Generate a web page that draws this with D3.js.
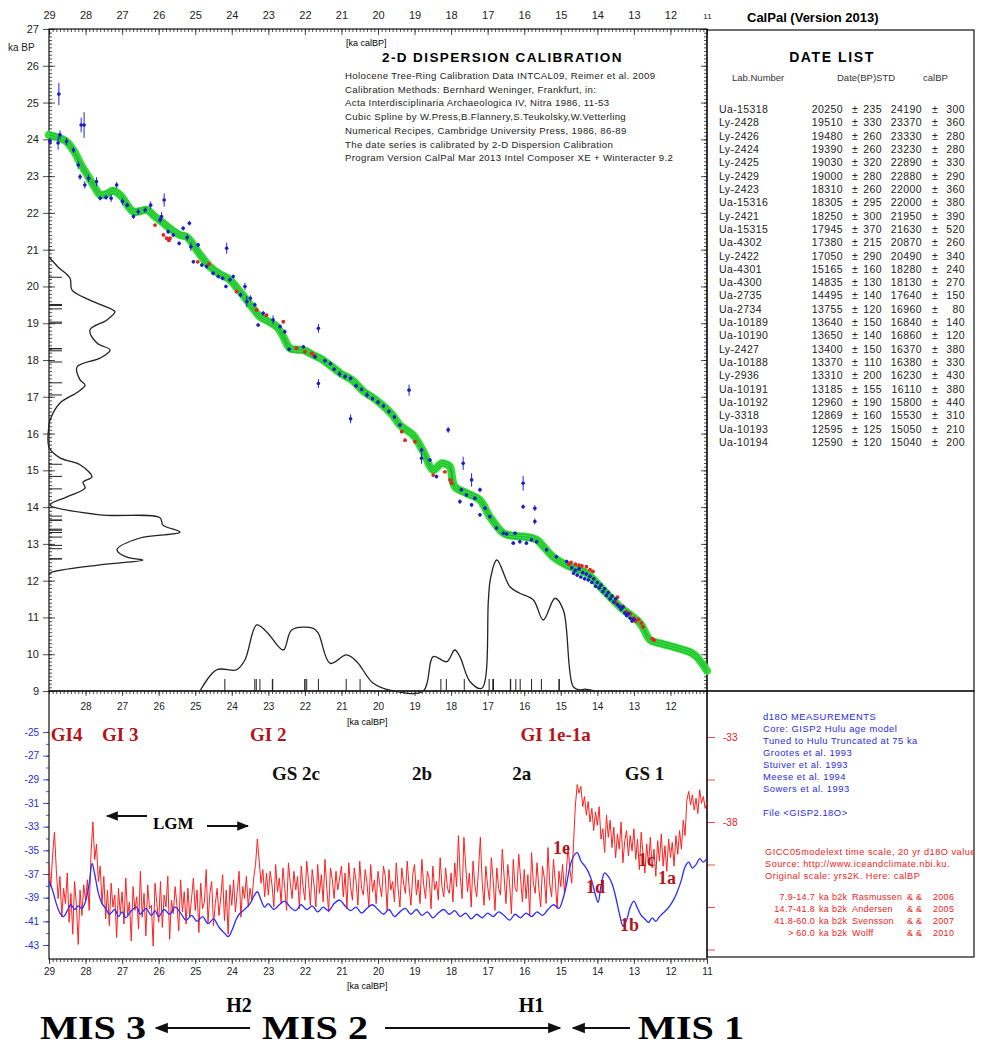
<!DOCTYPE html>
<html>
<head>
<meta charset="utf-8">
<script src="https://cdn.jsdelivr.net/npm/d3@7"></script>
<style>
body { margin: 0; background: #fff; }
svg text { font-family: "Liberation Sans", Arial, sans-serif; }
svg text.serif { font-family: "Liberation Serif", "Times New Roman", serif; font-weight: bold; }
</style>
</head>
<body>
<svg id="chart" width="986" height="1047"></svg>
<script>
// ---- date list (lab numbers, 14C ages, calibrated ages) ----
const labs = ["Ua-15318","Ly-2428","Ly-2426","Ly-2424","Ly-2425","Ly-2429","Ly-2423","Ua-15316","Ly-2421","Ua-15315","Ua-4302","Ly-2422","Ua-4301","Ua-4300","Ua-2735","Ua-2734","Ua-10189","Ua-10190","Ly-2427","Ua-10188","Ly-2936","Ua-10191","Ua-10192","Ly-3318","Ua-10193","Ua-10194"];
const bpDates = [20250,19510,19480,19390,19030,19000,18310,18305,18250,17945,17380,17050,15165,14835,14495,13755,13640,13650,13400,13370,13310,13185,12960,12869,12595,12590];
const bpStd = [235,330,260,260,320,280,260,295,300,370,215,290,160,130,140,120,150,140,150,110,200,155,190,160,125,120];
const calDates = [24190,23370,23330,23230,22890,22880,22000,22000,21950,21630,20870,20490,18280,18130,17640,16960,16840,16860,16370,16380,16230,16110,15800,15530,15050,15040];
const calStd = [300,360,280,280,330,290,360,380,390,520,260,340,240,270,150,80,140,120,380,330,430,380,440,310,210,200];

// ---- calibration curve [ka calBP, ka BP] ----
const calCurve = [[29.0,24.12],[28.75,24.05],[28.52,23.94],[28.3,23.65],[28.15,23.36],[27.92,22.98],[27.75,22.7],[27.6,22.49],[27.42,22.52],[27.24,22.6],[27.01,22.44],[26.85,22.2],[26.69,22.03],[26.5,22.05],[26.33,22.08],[26.1,21.9],[25.87,21.72],[25.62,21.52],[25.42,21.4],[25.23,21.35],[25.1,21.2],[24.96,20.99],[24.78,20.75],[24.6,20.54],[24.35,20.35],[24.05,20.18],[23.85,19.95],[23.59,19.63],[23.4,19.38],[23.23,19.18],[23.0,19.05],[22.77,18.91],[22.6,18.65],[22.41,18.32],[22.2,18.28],[22.04,18.27],[21.8,18.15],[21.59,18.05],[21.3,17.85],[21.0,17.62],[20.7,17.45],[20.4,17.15],[20.1,16.95],[19.8,16.7],[19.6,16.5],[19.4,16.23],[19.04,15.96],[18.76,15.51],[18.49,15.01],[18.26,15.19],[18.1,15.15],[18.03,15.1],[17.9,14.56],[17.58,14.38],[17.21,14.19],[16.94,13.74],[16.57,13.29],[16.3,13.22],[16.03,13.2],[15.66,13.11],[15.45,12.9],[15.21,12.65],[14.75,12.38],[14.29,12.2],[13.84,11.75],[13.38,11.29],[12.83,10.84],[12.56,10.39],[12.3,10.3],[12.1,10.25],[11.85,10.18],[11.65,10.12],[11.45,10.05],[11.28,9.93],[11.1,9.7],[11.0,9.55]];

// ---- calibration data points [ka calBP, ka BP, error] ----
const bluePoints = [[28.97,23.94,0.1],[28.75,23.9,0.18],[28.7,24.12,0.12],[28.52,23.94,0.1],[28.73,25.23,0.3],[28.12,24.39,0.2],[28.04,24.39,0.35],[28.33,23.71,0.08],[28.2,23.3,0.1],[28.15,22.98,0.08],[28.02,22.76,0.1],[27.92,22.94,0.1],[27.7,22.85,0.12],[27.6,22.4,0.06],[27.44,22.42,0.06],[27.3,22.4,0.1],[27.15,22.76,0.08],[26.99,22.31,0.1],[26.86,22.21,0.06],[26.69,21.9,0.06],[26.56,22.03,0.08],[26.37,22.08,0.06],[26.22,22.21,0.1],[25.96,21.81,0.08],[25.92,21.9,0.12],[25.85,22.35,0.18],[25.74,21.49,0.06],[25.6,21.4,0.06],[25.44,21.17,0.05],[25.33,21.58,0.06],[25.16,21.72,0.06],[25.22,21.33,0.08],[25.12,21.08,0.12],[24.92,21.13,0.06],[25.05,20.67,0.05],[24.82,20.58,0.05],[24.69,20.54,0.05],[24.51,20.36,0.06],[24.37,20.27,0.05],[24.25,20.22,0.05],[24.14,21.04,0.15],[24.05,20.18,0.05],[24.16,20.0,0.05],[23.96,20.27,0.05],[23.76,19.77,0.06],[23.64,20.0,0.1],[23.59,19.59,0.15],[23.49,19.68,0.08],[23.37,19.5,0.06],[23.28,18.95,0.05],[23.14,19.27,0.06],[22.87,19.09,0.12],[22.68,18.91,0.06],[22.55,18.77,0.06],[22.43,18.29,0.05],[22.04,18.36,0.05],[21.72,18.09,0.05],[21.63,18.86,0.12],[21.63,17.36,0.12],[21.45,17.98,0.05],[21.3,17.9,0.06],[21.2,17.75,0.05],[21.05,17.62,0.08],[20.9,17.55,0.06],[20.75,16.4,0.12],[20.75,17.5,0.05],[20.6,17.3,0.06],[20.45,17.2,0.05],[20.3,17.05,0.08],[20.15,16.95,0.05],[20.0,16.85,0.06],[19.85,16.75,0.05],[19.7,16.6,0.06],[19.55,16.45,0.05],[19.4,16.23,0.05],[19.15,17.18,0.15],[18.81,15.55,0.06],[18.81,15.33,0.15],[18.58,15.28,0.05],[18.4,14.83,0.05],[18.08,16.1,0.08],[17.72,14.47,0.05],[17.76,14.15,0.06],[17.67,15.19,0.18],[17.58,14.33,0.05],[17.44,14.74,0.18],[17.44,14.06,0.05],[17.35,14.24,0.05],[17.21,14.47,0.06],[17.21,13.79,0.05],[17.07,13.97,0.05],[16.94,13.74,0.05],[16.76,13.43,0.05],[16.57,13.29,0.05],[16.48,13.27,0.05],[16.3,13.02,0.05],[16.25,13.29,0.05],[16.12,13.06,0.05],[16.03,14.65,0.2],[16.03,14.01,0.06],[15.94,13.02,0.05],[15.8,13.11,0.05],[15.71,13.97,0.08],[15.71,13.61,0.08],[15.66,13.06,0.05],[15.39,12.84,0.05],[15.12,12.65,0.05],[14.84,12.52,0.05],[14.7,12.35,0.04],[14.65,12.2,0.04],[14.6,12.28,0.04],[14.55,12.15,0.04],[14.5,12.32,0.04],[14.45,12.1,0.04],[14.4,12.22,0.04],[14.35,12.05,0.04],[14.3,12.18,0.04],[14.25,12.02,0.04],[14.2,12.12,0.04],[14.15,11.95,0.04],[14.1,12.05,0.04],[14.05,11.85,0.04],[14.0,11.95,0.04],[13.95,11.8,0.04],[13.9,11.88,0.04],[13.85,11.7,0.04],[13.8,11.78,0.04],[13.75,11.6,0.04],[13.7,11.68,0.04],[13.65,11.5,0.04],[13.6,11.58,0.04],[13.55,11.42,0.04],[13.5,11.5,0.04],[13.45,11.35,0.04],[13.4,11.3,0.04],[13.35,11.22,0.04],[13.3,11.28,0.04],[13.25,11.12,0.04],[13.2,11.05,0.04],[13.15,11.1,0.04],[13.1,10.98,0.04],[13.05,10.9,0.04],[13.0,10.95,0.04]];
const redPoints = [[26.1,21.67],[25.87,21.4],[25.78,21.31],[25.69,21.31],[25.72,21.25],[24.93,20.67],[24.62,20.61],[23.87,19.86],[23.32,19.36],[23.05,19.22],[22.59,19.04],[22.23,18.32],[22.0,18.23],[21.81,18.18],[21.75,18.12],[19.35,16.05],[19.26,15.82],[18.99,15.78],[18.49,14.87],[18.17,14.96],[18.03,14.74],[17.99,14.65],[14.78,12.45],[14.72,12.5],[14.6,12.45],[14.5,12.42],[14.42,12.4],[14.3,12.38],[14.2,12.3],[14.12,12.25],[13.5,11.4],[13.45,11.55],[13.3,11.3],[13.2,11.15],[13.1,11.1],[13.0,10.98],[12.95,10.9],[12.88,10.95],[12.8,10.85],[12.75,10.75],[12.5,10.42],[12.45,10.38]];

// ---- summed probabilities: 14C (left) [ka BP, rel] and calibrated (bottom) [ka calBP, rel] ----
const bpDensity = [[20.8,0],[20.53,6.9],[20.23,16.0],[19.9,17.6],[19.63,31.3],[19.36,48.9],[19.31,50.4],[19.09,44.3],[18.82,31.3],[18.46,36.6],[18.27,46.6],[18.05,38.9],[17.81,21.4],[17.46,23.7],[17.32,27.5],[17.13,22.1],[16.83,8.4],[16.37,0.8],[16.23,0],[15.63,0],[15.34,8.4],[15.15,23.7],[14.82,32.8],[14.68,26.0],[14.52,27.5],[14.28,13.7],[14.06,0.8],[13.79,38.9],[13.71,84.7],[13.51,87.0],[13.32,100],[13.16,69.5],[12.84,51.9],[12.64,59.5],[12.56,71.8],[12.43,38.9],[12.21,0.8],[12.16,0]];
const calDensity = [[24.87,0],[24.41,16.2],[23.87,16.2],[23.64,23.7],[23.32,50.4],[23.05,45.3],[22.59,31.3],[22.36,46.6],[21.77,47.8],[21.63,44.0],[21.31,21.1],[20.86,27.5],[20.58,22.4],[20.13,5.9],[19.58,0],[18.76,0],[18.49,26.2],[18.12,22.4],[17.9,31.3],[17.76,26.2],[17.48,7.1],[17.16,2.1],[16.98,69.5],[16.93,84.7],[16.75,100],[16.39,79.6],[16.12,74.6],[15.75,69.5],[15.48,54.2],[15.16,70.8],[14.93,61.8],[14.66,3.3],[14.48,0.8],[14.34,1.5],[14.2,0.8],[14.07,0]];

// ---- d18O: GISP2 (red, 20-yr steps from 29.0 ka) and Hulu (blue) ----
const redStart = 29.0, redStep = 0.05;
const gispD18O = [
-40.5,-41.8,-39.9,-38.6,-40.8,-42.5,-41.2,-43.6,-41.9,-42.8,-41.0,-43.9,-42.2,-44.6,-41.5,-42.9,-45.2,-42.0,-43.5,-41.7,
-42.6,-41.4,-43.2,-39.8,-38.0,-40.2,-39.3,-41.5,-40.6,-42.8,-41.2,-43.7,-42.0,-44.1,-41.6,-43.0,-42.3,-44.8,-41.9,-43.4,
-42.1,-44.0,-41.3,-43.5,-42.7,-45.0,-41.8,-43.2,-42.4,-44.3,-40.9,-43.6,-42.2,-44.7,-41.7,-43.1,-42.9,-45.3,-41.6,-42.8,
-43.9,-41.5,-44.2,-42.3,-43.0,-41.2,-44.9,-42.6,-43.4,-41.8,-42.9,-44.4,-41.4,-43.3,-42.1,-44.0,-41.9,-43.6,-42.5,-41.3,
-43.2,-42.0,-44.5,-41.6,-43.1,-42.7,-40.8,-43.9,-42.2,-41.5,-44.1,-42.8,-41.9,-43.5,-42.4,-41.1,-43.8,-42.0,-44.6,-41.7,
-42.9,-41.4,-43.3,-42.1,-40.9,-43.6,-41.8,-42.5,-41.2,-43.0,-41.9,-42.6,-41.3,-40.5,-39.0,-40.3,-41.6,-40.8,-42.4,-41.0,
-42.3,-40.9,-41.7,-43.0,-40.5,-42.1,-41.3,-42.8,-40.7,-41.9,-43.2,-40.4,-41.6,-42.5,-40.9,-42.0,-41.2,-43.1,-40.6,-41.8,
-42.6,-40.3,-41.5,-42.9,-40.8,-41.7,-43.0,-40.5,-42.2,-41.1,-42.7,-40.2,-41.9,-43.3,-40.7,-41.4,-42.5,-40.9,-42.0,-41.3,
-40.6,-42.4,-41.0,-43.1,-40.4,-41.8,-42.6,-40.7,-41.5,-42.9,-40.3,-41.9,-42.3,-40.8,-41.6,-43.0,-40.5,-42.1,-41.4,-42.8,
-40.9,-41.7,-42.4,-40.6,-41.2,-43.2,-40.8,-42.0,-41.5,-42.7,-40.4,-41.9,-43.0,-40.7,-41.6,-42.2,-40.3,-41.8,-42.9,-41.1,
-40.5,-42.3,-41.4,-42.8,-40.2,-41.7,-42.5,-40.9,-41.3,-43.1,-40.6,-42.0,-41.5,-42.6,-40.1,-41.8,-42.4,-40.7,-41.9,-42.2,
-41.0,-42.7,-40.4,-41.8,-38.8,-41.2,-42.5,-38.9,-40.6,-42.1,-41.0,-43.0,-40.3,-41.7,-42.4,-40.8,-38.9,-41.5,-42.9,-40.6,
-41.8,-42.6,-40.1,-41.4,-43.2,-40.7,-41.9,-42.3,-39.6,-41.2,-42.8,-40.5,-41.6,-43.4,-40.2,-41.9,-42.1,-39.9,-41.3,-42.7,
-40.8,-42.5,-41.1,-43.5,-39.8,-41.6,-42.2,-40.4,-41.9,-43.0,-40.6,-41.3,-42.8,-39.5,-41.7,-42.4,-40.2,-41.5,-43.1,-40.9,
-41.8,-40.5,-42.2,-41.0,-39.4,-40.8,-41.6,-39.2,-37.0,-35.8,-36.3,-35.9,-37.1,-36.5,-37.6,-36.8,-38.0,-37.2,-38.5,-37.4,
-38.2,-37.1,-39.0,-38.4,-39.8,-37.6,-38.9,-37.9,-39.5,-38.3,-40.1,-38.7,-39.6,-38.0,-40.4,-39.1,-38.5,-40.0,-38.8,-39.7,
-38.4,-40.2,-39.0,-40.8,-38.6,-39.9,-41.0,-39.3,-40.5,-38.9,-40.7,-39.6,-41.2,-39.1,-40.3,-38.7,-40.6,-39.4,-40.9,-39.0,
-40.1,-39.2,-40.6,-38.8,-39.9,-38.5,-39.6,-37.9,-38.8,-36.7,-36.2,-37.0,-36.4,-37.3,-36.6,-37.5,-36.1,-36.9,-36.5,-37.2,-36.8];
const huluD18O = [[29.0,-37.6],[28.9,-38.4],[28.8,-39.5],[28.7,-40.3],[28.6,-40.6],[28.5,-40.1],[28.4,-39.6],[28.3,-40.0],[28.2,-39.7],[28.1,-39.9],[28.0,-39.3],[27.9,-37.8],[27.82,-36.1],[27.75,-37.0],[27.65,-38.6],[27.55,-39.5],[27.45,-39.9],[27.35,-40.4],[27.2,-40.0],[27.1,-40.6],[27.0,-40.2],[26.9,-40.7],[26.75,-40.1],[26.6,-39.8],[26.5,-40.4],[26.35,-39.9],[26.2,-40.5],[26.1,-40.1],[26.0,-40.6],[25.85,-40.0],[25.7,-40.4],[25.55,-39.8],[25.4,-40.3],[25.25,-40.9],[25.1,-40.5],[24.95,-41.0],[24.8,-40.6],[24.65,-41.2],[24.5,-40.8],[24.35,-41.5],[24.2,-42.0],[24.1,-42.3],[24.0,-41.8],[23.9,-41.0],[23.8,-40.4],[23.65,-40.0],[23.5,-39.5],[23.4,-38.9],[23.3,-38.5],[23.2,-39.2],[23.1,-39.8],[23.0,-39.5],[22.85,-40.0],[22.7,-39.6],[22.55,-39.3],[22.4,-39.8],[22.25,-40.1],[22.1,-39.6],[21.95,-40.0],[21.8,-39.7],[21.65,-40.2],[21.5,-39.8],[21.35,-40.1],[21.2,-39.5],[21.05,-39.2],[20.9,-39.7],[20.75,-40.1],[20.6,-39.8],[20.45,-40.3],[20.3,-39.9],[20.15,-39.6],[20.0,-40.0],[19.85,-40.4],[19.7,-40.0],[19.55,-40.6],[19.4,-40.2],[19.25,-39.9],[19.1,-40.4],[18.95,-40.0],[18.8,-40.5],[18.65,-40.2],[18.5,-40.7],[18.35,-40.3],[18.2,-40.0],[18.05,-40.4],[17.9,-40.1],[17.75,-40.6],[17.6,-40.3],[17.45,-40.8],[17.3,-40.4],[17.15,-40.7],[17.0,-40.3],[16.85,-40.6],[16.7,-40.2],[16.55,-40.5],[16.4,-40.9],[16.25,-40.4],[16.1,-40.7],[15.95,-40.3],[15.8,-40.6],[15.65,-40.2],[15.5,-40.5],[15.35,-40.0],[15.2,-39.6],[15.05,-39.9],[14.95,-39.2],[14.85,-38.0],[14.75,-36.4],[14.65,-35.5],[14.55,-35.2],[14.45,-35.9],[14.35,-36.3],[14.25,-36.8],[14.15,-37.6],[14.05,-38.8],[13.98,-39.4],[13.9,-38.0],[13.8,-36.9],[13.7,-37.2],[13.6,-37.8],[13.5,-38.9],[13.4,-40.3],[13.3,-41.4],[13.2,-40.9],[13.1,-39.8],[13.0,-39.3],[12.9,-39.9],[12.8,-40.5],[12.7,-40.8],[12.6,-41.1],[12.5,-40.7],[12.4,-41.0],[12.3,-40.6],[12.2,-40.3],[12.1,-40.0],[12.0,-39.6],[11.9,-39.1],[11.8,-38.4],[11.7,-37.5],[11.6,-36.4],[11.5,-36.0],[11.4,-36.5],[11.3,-36.2],[11.2,-35.7],[11.1,-36.0],[11.0,-35.6]];

// ---- text blocks ----
const infoLines = ["Holocene Tree-Ring Calibration Data INTCAL09, Reimer et al. 2009","Calibration Methods:  Bernhard Weninger, Frankfurt, in:","Acta Interdisciplinaria Archaeologica IV, Nitra 1986, 11-53","Cubic Spline by  W.Press,B.Flannery,S.Teukolsky,W.Vetterling","Numerical Recipes, Cambridge University Press, 1986, 86-89","The date series is calibrated by 2-D Dispersion Calibration","Program Version CalPal Mar 2013 Intel Composer XE + Winteracter 9.2"];
const coreLines = ["d18O MEASUREMENTS","Core: GISP2 Hulu age model","Tuned to Hulu Truncated at 75 ka","Grootes et al. 1993","Stuiver et al. 1993","Meese et al. 1994","Sowers et al. 1993","","File <GISP2.18O>"];
const scaleLines = ["GICC05modelext time scale, 20 yr d18O values","Source: http://www.iceandclimate.nbi.ku.","Original scale: yrs2K. Here: calBP"];
const refRanges = ["7.9-14.7","14.7-41.8","41.8-60.0","> 60.0"];
const refAuthors = ["Rasmussen","Andersen","Svensson","Wolff"];
const refYears = ["2006","2005","2007","2010"];

// ---- event labels (x in ka calBP, v in per mil of the left axis) ----
const giLabels = [{t:"GI4",x:28.95},{t:"GI 3",x:27.55},{t:"GI 2",x:23.5},{t:"GI 1e-1a",x:16.1}];
const gsLabels = [{t:"GS 2c",x:22.9},{t:"2b",x:19.07},{t:"2a",x:16.33},{t:"GS 1",x:13.25}];
const subLabels = [{t:"1e",x:15.21,v:-35.3},{t:"1d",x:14.31,v:-38.6},{t:"1c",x:12.89,v:-36.3},{t:"1a",x:12.34,v:-37.85},{t:"1b",x:13.38,v:-41.8}];

// =================================
const svg = d3.select("#chart");
svg.append("rect").attr("width", 986).attr("height", 1047).attr("fill", "#fff");

const x = d3.scaleLinear().domain([29, 11]).range([49, 707]);
const yTop = d3.scaleLinear().domain([27, 9]).range([29, 691]);
const yBlue = d3.scaleLinear().domain([-25, -43]).range([732, 945]);
const yRed = d3.scaleLinear().domain([-33, -38]).range([737, 822]);
const densX = d3.scaleLinear().domain([0, 100]).range([49, 180]);
const densY = d3.scaleLinear().domain([0, 100]).range([691, 560]);

const defs = svg.append("defs");
defs.append("clipPath").attr("id", "lowClip").append("rect").attr("x", 49).attr("y", 691).attr("width", 658).attr("height", 268);
defs.append("clipPath").attr("id", "boxClip").append("rect").attr("x", 707).attr("y", 691).attr("width", 267).attr("height", 266);

function drawAxis(axis, tx, ty, color, size) {
  const g = svg.append("g").attr("transform", `translate(${tx},${ty})`).call(axis);
  g.select(".domain").remove();
  g.selectAll(".tick line").attr("stroke", color).attr("stroke-width", 0.8);
  g.selectAll(".tick text").attr("fill", color).style("font-size", size + "px").attr("font-family", "Liberation Sans, Arial, sans-serif");
  return g;
}
const minorX = d3.range(110, 291).map(d => d / 10);
const minorY = d3.range(90, 271).map(d => d / 10);
const fmt = d => String(d);

// ---- top panel axes ----
const topAx = drawAxis(d3.axisTop(x).tickValues(d3.range(11, 30)).tickSize(-6).tickPadding(10).tickFormat(fmt), 0, 29, "#222", 11);
topAx.selectAll(".tick text").filter(d => d === 11).style("font-size", "8px");
drawAxis(d3.axisTop(x).tickValues(minorX).tickSize(-3).tickFormat(""), 0, 29, "#222", 10);
drawAxis(d3.axisLeft(yTop).tickValues(d3.range(9, 28)).tickSize(6).tickPadding(4).tickFormat(fmt), 49, 0, "#222", 11);
drawAxis(d3.axisLeft(yTop).tickValues(d3.range(9, 28)).tickSize(-6).tickFormat(""), 49, 0, "#222", 10);
drawAxis(d3.axisLeft(yTop).tickValues(minorY).tickSize(-3).tickFormat(""), 49, 0, "#222", 10);
drawAxis(d3.axisRight(yTop).tickValues(d3.range(9, 28)).tickSize(-6).tickFormat(""), 707, 0, "#222", 10);
drawAxis(d3.axisRight(yTop).tickValues(minorY).tickSize(-3).tickFormat(""), 707, 0, "#222", 10);
drawAxis(d3.axisBottom(x).tickValues(d3.range(12, 29)).tickSize(5).tickPadding(7).tickFormat(fmt), 0, 691, "#222", 10);
drawAxis(d3.axisBottom(x).tickValues(minorX).tickSize(3).tickFormat(""), 0, 691, "#222", 10);

// ---- lower panel axes ----
drawAxis(d3.axisLeft(yBlue).tickValues(d3.range(-43, -24, 2)).tickSize(6).tickPadding(4).tickFormat(fmt), 49, 0, "#2a2ad0", 10);
drawAxis(d3.axisLeft(yBlue).tickValues(d3.range(-43, -24, 1)).tickSize(3).tickFormat(""), 49, 0, "#2a2ad0", 10);
drawAxis(d3.axisRight(yRed).tickValues([-33, -35.5, -38, -40.5, -43, -45.5]).tickSize(8).tickPadding(8)
  .tickFormat(d => (d === -33 || d === -38) ? String(d) : ""), 707, 0, "#e02020", 10);
drawAxis(d3.axisBottom(x).tickValues(d3.range(11, 30)).tickSize(5).tickPadding(4).tickFormat(fmt), 0, 959, "#222", 10);
drawAxis(d3.axisBottom(x).tickValues(minorX).tickSize(3).tickFormat(""), 0, 959, "#222", 10);

// ---- frames ----
const frame = (x0, y0, w, h) => svg.append("rect").attr("x", x0).attr("y", y0).attr("width", w).attr("height", h)
  .attr("fill", "none").attr("stroke", "#111").attr("stroke-width", 1.2);
frame(49, 29, 658, 662);
frame(707, 30, 267, 661);
frame(49, 691, 658, 268);
frame(707, 691, 267, 266);

// ---- summed probability curves ----
svg.append("path").datum(bpDensity)
  .attr("d", d3.line().x(d => densX(d[1])).y(d => yTop(d[0])).curve(d3.curveCatmullRom))
  .attr("fill", "none").attr("stroke", "#222").attr("stroke-width", 1.3);
svg.append("path").datum(calDensity)
  .attr("d", d3.line().x(d => x(d[0])).y(d => densY(d[1])).curve(d3.curveCatmullRom))
  .attr("fill", "none").attr("stroke", "#222").attr("stroke-width", 1.3);

// date ticks
svg.append("g").selectAll("line").data(bpDates).join("line")
  .attr("x1", 49).attr("x2", 62).attr("y1", d => yTop(d / 1000)).attr("y2", d => yTop(d / 1000))
  .attr("stroke", "#222").attr("stroke-width", 1);
svg.append("g").selectAll("line").data(calDates).join("line")
  .attr("x1", d => x(d / 1000)).attr("x2", d => x(d / 1000)).attr("y1", 691).attr("y2", 679)
  .attr("stroke", "#222").attr("stroke-width", 1);

// ---- calibration curve ----
const calLine = d3.line().x(d => x(d[0])).y(d => yTop(d[1])).curve(d3.curveCatmullRom);
svg.append("path").datum(calCurve).attr("d", calLine)
  .attr("fill", "none").attr("stroke", "#2fe02f").attr("stroke-width", 8).attr("stroke-linecap", "round");
[-2.6, 0, 2.6].forEach(off => {
  svg.append("path").datum(calCurve).attr("d", calLine).attr("transform", `translate(0,${off})`)
    .attr("fill", "none").attr("stroke", "#2a7a6a").attr("stroke-width", 0.6).attr("opacity", 0.8);
});

// ---- points ----
svg.append("g").selectAll("circle").data(redPoints).join("circle")
  .attr("cx", d => x(d[0])).attr("cy", d => yTop(d[1])).attr("r", 1.9).attr("fill", "#e52222");
const bp = svg.append("g");
bp.selectAll("line.err").data(bluePoints).join("line").attr("class", "err")
  .attr("x1", d => x(d[0])).attr("x2", d => x(d[0]))
  .attr("y1", d => yTop(d[1] + d[2])).attr("y2", d => yTop(d[1] - d[2]))
  .attr("stroke", "#2323d8").attr("stroke-width", 1);
bp.selectAll("line.bar").data(bluePoints).join("line").attr("class", "bar")
  .attr("x1", d => x(d[0]) - 1.5).attr("x2", d => x(d[0]) + 1.5)
  .attr("y1", d => yTop(d[1])).attr("y2", d => yTop(d[1]))
  .attr("stroke", "#2323d8").attr("stroke-width", 1);
bp.selectAll("circle").data(bluePoints).join("circle")
  .attr("cx", d => x(d[0])).attr("cy", d => yTop(d[1])).attr("r", 1.8).attr("fill", "#1d1dc8");

// ---- top texts ----
svg.append("text").attr("x", 747).attr("y", 22).style("font-size", "13px").style("font-weight", "bold").text("CalPal (Version 2013)");
svg.append("text").attr("x", 8).attr("y", 51).style("font-size", "10px").attr("fill", "#222").text("ka BP");
svg.append("text").attr("x", 346).attr("y", 46).style("font-size", "9px").text("[ka calBP]");
svg.append("text").attr("x", 382).attr("y", 62).style("font-size", "13.5px").style("font-weight", "bold")
  .style("letter-spacing", "1.4px").text("2-D DISPERSION CALIBRATION");
svg.append("g").selectAll("text").data(infoLines).join("text")
  .attr("x", 345).attr("y", (d, i) => 79 + i * 13.7).style("font-size", "9.6px").style("letter-spacing", "0.35px")
  .attr("fill", "#222").text(d => d);

// ---- date list ----
svg.append("text").attr("x", 832).attr("y", 62).attr("text-anchor", "middle").style("font-size", "14px")
  .style("font-weight", "bold").style("letter-spacing", "1.6px").text("DATE LIST");
svg.append("text").attr("x", 732).attr("y", 81).style("font-size", "9.5px").attr("fill", "#333").text("Lab.Number");
svg.append("text").attr("x", 837).attr("y", 81).style("font-size", "9.5px").attr("fill", "#333").text("Date(BP)STD");
svg.append("text").attr("x", 923).attr("y", 81).style("font-size", "9.5px").attr("fill", "#333").text("calBP");
const rows = svg.append("g").style("font-size", "10.5px").attr("fill", "#222");
labs.forEach((lab, i) => {
  const yy = 113 + i * 13.32;
  rows.append("text").attr("x", 719).attr("y", yy).style("letter-spacing", "0.4px").text(lab);
  rows.append("text").attr("x", 843).attr("y", yy).attr("text-anchor", "end").style("letter-spacing", "0.4px").text(bpDates[i]);
  rows.append("text").attr("x", 855).attr("y", yy).attr("text-anchor", "middle").text("±");
  rows.append("text").attr("x", 882).attr("y", yy).attr("text-anchor", "end").style("letter-spacing", "0.4px").text(bpStd[i]);
  rows.append("text").attr("x", 922).attr("y", yy).attr("text-anchor", "end").style("letter-spacing", "0.4px").text(calDates[i]);
  rows.append("text").attr("x", 935).attr("y", yy).attr("text-anchor", "middle").text("±");
  rows.append("text").attr("x", 965).attr("y", yy).attr("text-anchor", "end").style("letter-spacing", "0.4px").text(calStd[i]);
});

// ---- lower panel curves ----
const low = svg.append("g").attr("clip-path", "url(#lowClip)");
low.append("path").datum(gispD18O.map((v, i) => [redStart - i * redStep, v]))
  .attr("d", d3.line().x(d => x(d[0])).y(d => yRed(d[1])))
  .attr("fill", "none").attr("stroke", "#ff1f1f").attr("stroke-width", 1);
low.append("path").datum(huluD18O)
  .attr("d", d3.line().x(d => x(d[0])).y(d => yBlue(d[1])).curve(d3.curveCatmullRom))
  .attr("fill", "none").attr("stroke", "#2b2bff").attr("stroke-width", 1.3);

// lower labels
svg.append("text").attr("x", 347).attr("y", 725).style("font-size", "9px").text("[ka calBP]");
svg.append("text").attr("x", 347).attr("y", 989).style("font-size", "9px").text("[ka calBP]");
svg.append("g").selectAll("text").data(giLabels).join("text").attr("class", "serif")
  .attr("x", d => x(d.x)).attr("y", 741).style("font-size", "19px").attr("fill", "#b3141a").text(d => d.t);
svg.append("g").selectAll("text").data(gsLabels).join("text").attr("class", "serif")
  .attr("x", d => x(d.x)).attr("y", 780).style("font-size", "19px").attr("fill", "#111").text(d => d.t);
svg.append("g").selectAll("text").data(subLabels).join("text").attr("class", "serif")
  .attr("x", d => x(d.x)).attr("y", d => yBlue(d.v)).style("font-size", "18px").attr("fill", "#b3141a").text(d => d.t);

// LGM with arrows
const arrowHead = defs.append("marker").attr("id", "ah").attr("viewBox", "0 0 10 10").attr("refX", 9).attr("refY", 5)
  .attr("markerWidth", 6).attr("markerHeight", 6).attr("orient", "auto-start-reverse");
arrowHead.append("path").attr("d", "M0,1 L10,5 L0,9 Z").attr("fill", "#111");
const arrow = (x1, x2, y, w) => svg.append("line").attr("x1", x1).attr("x2", x2).attr("y1", y).attr("y2", y)
  .attr("stroke", "#111").attr("stroke-width", w).attr("marker-end", "url(#ah)");
svg.append("text").attr("class", "serif").attr("x", 153).attr("y", 829).style("font-size", "17px").text("LGM");
arrow(147, 107, 816, 2);
arrow(207, 248, 826, 2);

// lower right text box
const box = svg.append("g").attr("clip-path", "url(#boxClip)");
box.append("g").selectAll("text").data(coreLines).join("text")
  .attr("x", 763).attr("y", (d, i) => 720 + i * 12).style("font-size", "9.4px").style("letter-spacing", "0.5px")
  .attr("fill", "#2a2ad8").text(d => d);
box.append("g").selectAll("text").data(scaleLines).join("text")
  .attr("x", 765).attr("y", (d, i) => 855 + i * 12).style("font-size", "9.2px").style("letter-spacing", "0.5px")
  .attr("fill", "#ee2222").text(d => d);
refRanges.forEach((r, i) => {
  const yy = 900 + i * 12;
  const g = box.append("g").style("font-size", "9px").style("letter-spacing", "0.3px").attr("fill", "#ee2222");
  g.append("text").attr("x", 815).attr("y", yy).attr("text-anchor", "end").text(r);
  g.append("text").attr("x", 819).attr("y", yy).text("ka b2k");
  g.append("text").attr("x", 852).attr("y", yy).text(refAuthors[i]);
  g.append("text").attr("x", 907).attr("y", yy).text("& &");
  g.append("text").attr("x", 933).attr("y", yy).text(refYears[i]);
});

// bottom labels
svg.append("text").attr("class", "serif").attr("x", x(23.8)).attr("y", 1012).attr("text-anchor", "middle").style("font-size", "20px").text("H2");
svg.append("text").attr("class", "serif").attr("x", x(15.8)).attr("y", 1012).attr("text-anchor", "middle").style("font-size", "20px").text("H1");
[["MIS 3", 40], ["MIS 2", 262], ["MIS 1", 638]].forEach(([t, xx]) => {
  svg.append("text").attr("class", "serif").attr("x", xx).attr("y", 1039).style("font-size", "34px")
    .attr("textLength", 106).attr("lengthAdjust", "spacingAndGlyphs").text(t);
});
arrow(250, 156, 1028, 2.2);
arrow(385, 560, 1028, 2.2);
arrow(630, 573, 1028, 2.2);
</script>
</body>
</html>
